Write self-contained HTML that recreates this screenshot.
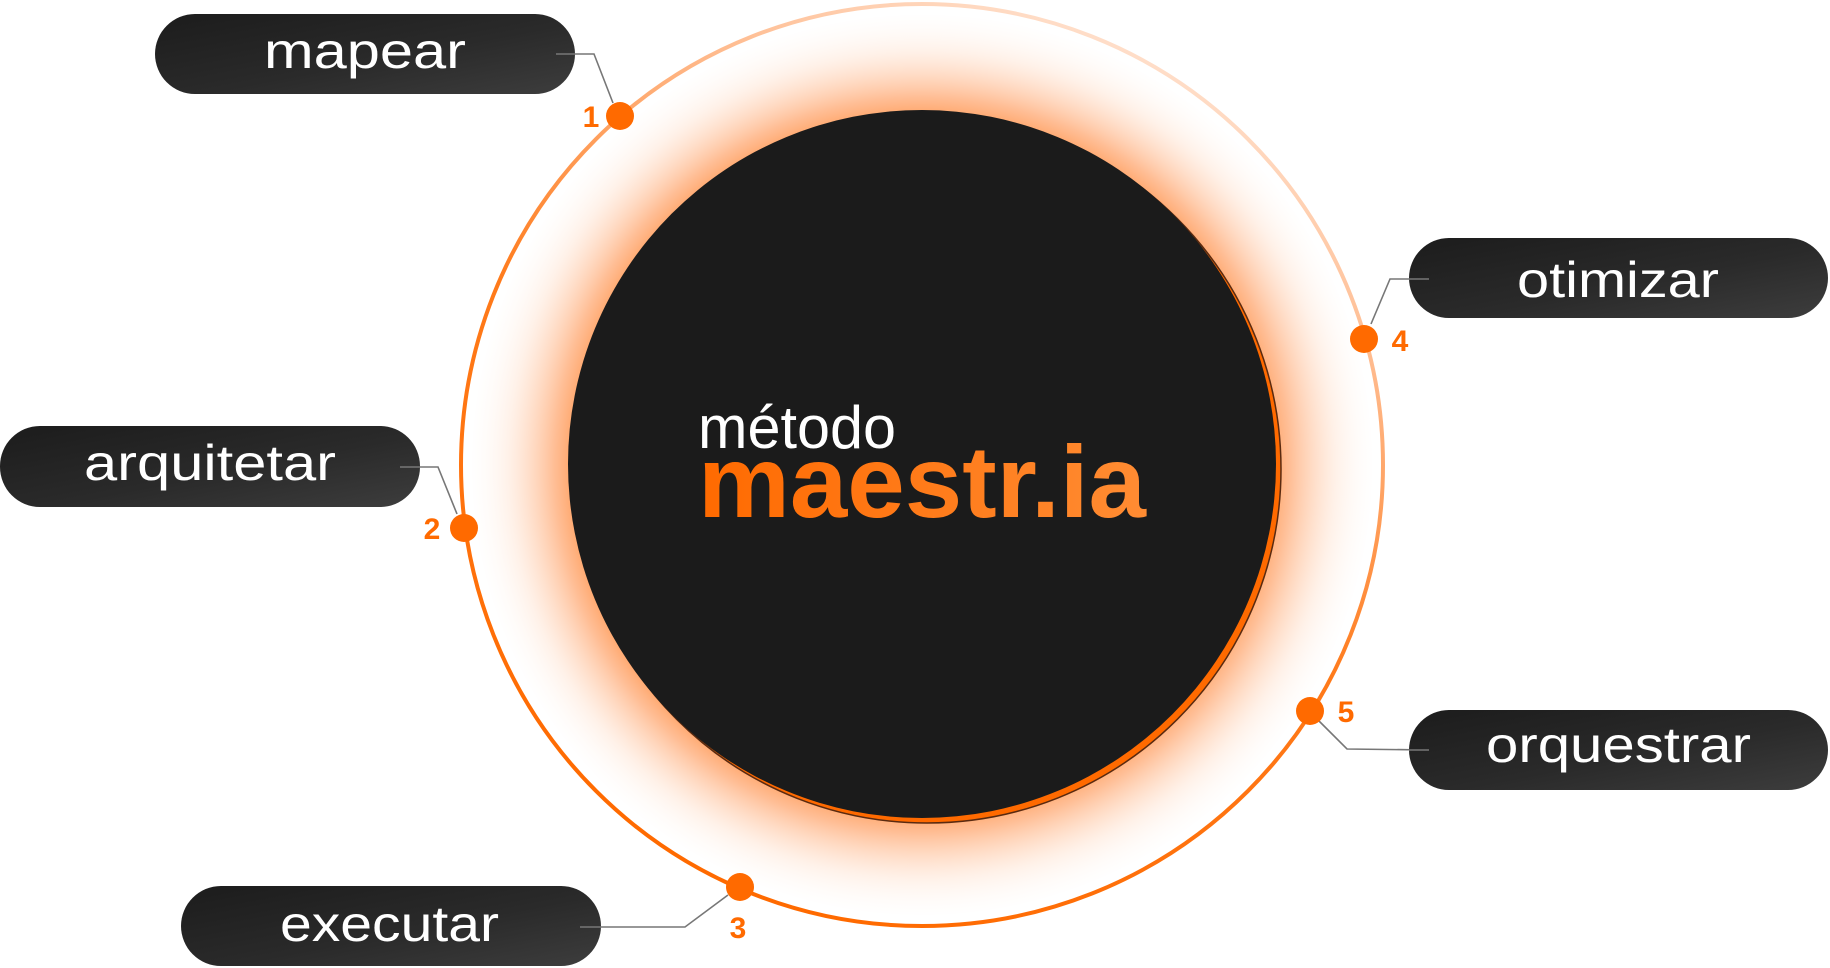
<!DOCTYPE html>
<html><head><meta charset="utf-8"><style>
html,body{margin:0;padding:0;background:#fff;width:1830px;height:968px;overflow:hidden}
svg{display:block}
</style></head><body>
<svg width="1830" height="968" viewBox="0 0 1830 968" xmlns="http://www.w3.org/2000/svg">
<defs>
<linearGradient id="ring" x1="0.3" y1="0.95" x2="0.75" y2="0">
<stop offset="0" stop-color="#ff6a00"/>
<stop offset="0.45" stop-color="#ff7a1a"/>
<stop offset="0.75" stop-color="#ffb889"/>
<stop offset="1" stop-color="#ffe8da"/>
</linearGradient>
<radialGradient id="glow" cx="922" cy="465" r="460" gradientUnits="userSpaceOnUse">
<stop offset="0.7" stop-color="#ff7a1a" stop-opacity="1"/>
<stop offset="0.8" stop-color="#ffa268" stop-opacity="0.7"/>
<stop offset="0.9" stop-color="#ffd8bf" stop-opacity="0.35"/>
<stop offset="1" stop-color="#ffffff" stop-opacity="0"/>
</radialGradient>
<linearGradient id="pill" x1="0" y1="0" x2="1" y2="1">
<stop offset="0" stop-color="#1c1c1c"/>
<stop offset="0.55" stop-color="#2a2a2a"/>
<stop offset="1" stop-color="#3d3d3d"/>
</linearGradient>
<linearGradient id="txt" x1="0" y1="0" x2="1" y2="0">
<stop offset="0" stop-color="#ff6a00"/>
<stop offset="1" stop-color="#ff8c33"/>
</linearGradient>
</defs>
<circle cx="922" cy="465" r="450" fill="url(#glow)"/>
<circle cx="922" cy="465" r="461" fill="none" stroke="url(#ring)" stroke-width="4"/>
<circle cx="927" cy="469" r="354" fill="#ff6a00" stroke="#5a2a10" stroke-width="1.5"/>
<circle cx="922" cy="464" r="354" fill="#1b1b1b"/>
<g stroke="#777" stroke-width="1.6" fill="none">
<polyline points="556,54 594,54 613,103"/>
<polyline points="400,467 438,467 457,514"/>
<polyline points="580,927 685,927 728,895"/>
<polyline points="1429,279 1390,279 1371,324"/>
<polyline points="1429,750 1347,749 1319,721"/>
</g>
<g fill="#ff6a00">
<circle cx="620" cy="116" r="14"/>
<circle cx="464" cy="528" r="14"/>
<circle cx="740" cy="887" r="14"/>
<circle cx="1364" cy="339" r="14"/>
<circle cx="1310" cy="711" r="14"/>
</g>
<g fill="#ff6a00" font-family="Liberation Sans, sans-serif" font-weight="bold" font-size="30" text-anchor="middle">
<text x="591" y="127">1</text>
<text x="432" y="539">2</text>
<text x="738" y="938">3</text>
<text x="1400" y="351">4</text>
<text x="1346" y="722">5</text>
</g>
<g fill="url(#pill)">
<rect x="155" y="14" width="420" height="80" rx="40"/>
<rect x="0" y="426" width="420" height="81" rx="40"/>
<rect x="181" y="886" width="420" height="80" rx="40"/>
<rect x="1409" y="238" width="419" height="80" rx="40"/>
<rect x="1409" y="710" width="419" height="80" rx="40"/>
</g>
<g stroke="#777" stroke-width="1.6" fill="none">
<line x1="556" y1="54" x2="575" y2="54"/>
<line x1="400" y1="467" x2="420" y2="467"/>
<line x1="580" y1="927" x2="601" y2="927"/>
<line x1="1409" y1="279" x2="1429" y2="279"/>
<line x1="1409" y1="750" x2="1429" y2="750"/>
</g>
<g fill="#fff" font-family="Liberation Sans, sans-serif" font-size="50" lengthAdjust="spacingAndGlyphs">
<text x="264" y="68" textLength="202" lengthAdjust="spacingAndGlyphs">mapear</text>
<text x="84" y="480" textLength="252" lengthAdjust="spacingAndGlyphs">arquitetar</text>
<text x="280" y="941" textLength="219" lengthAdjust="spacingAndGlyphs">executar</text>
<text x="1517" y="297" textLength="202" lengthAdjust="spacingAndGlyphs">otimizar</text>
<text x="1486" y="762" textLength="265" lengthAdjust="spacingAndGlyphs">orquestrar</text>
</g>
<text x="698" y="448" fill="#fff" font-family="Liberation Sans, sans-serif" font-size="60" textLength="198" lengthAdjust="spacingAndGlyphs">método</text>
<text x="698" y="517" fill="url(#txt)" font-family="Liberation Sans, sans-serif" font-weight="bold" font-size="102" textLength="448" lengthAdjust="spacingAndGlyphs">maestr.ia</text>
</svg>
</body></html>
